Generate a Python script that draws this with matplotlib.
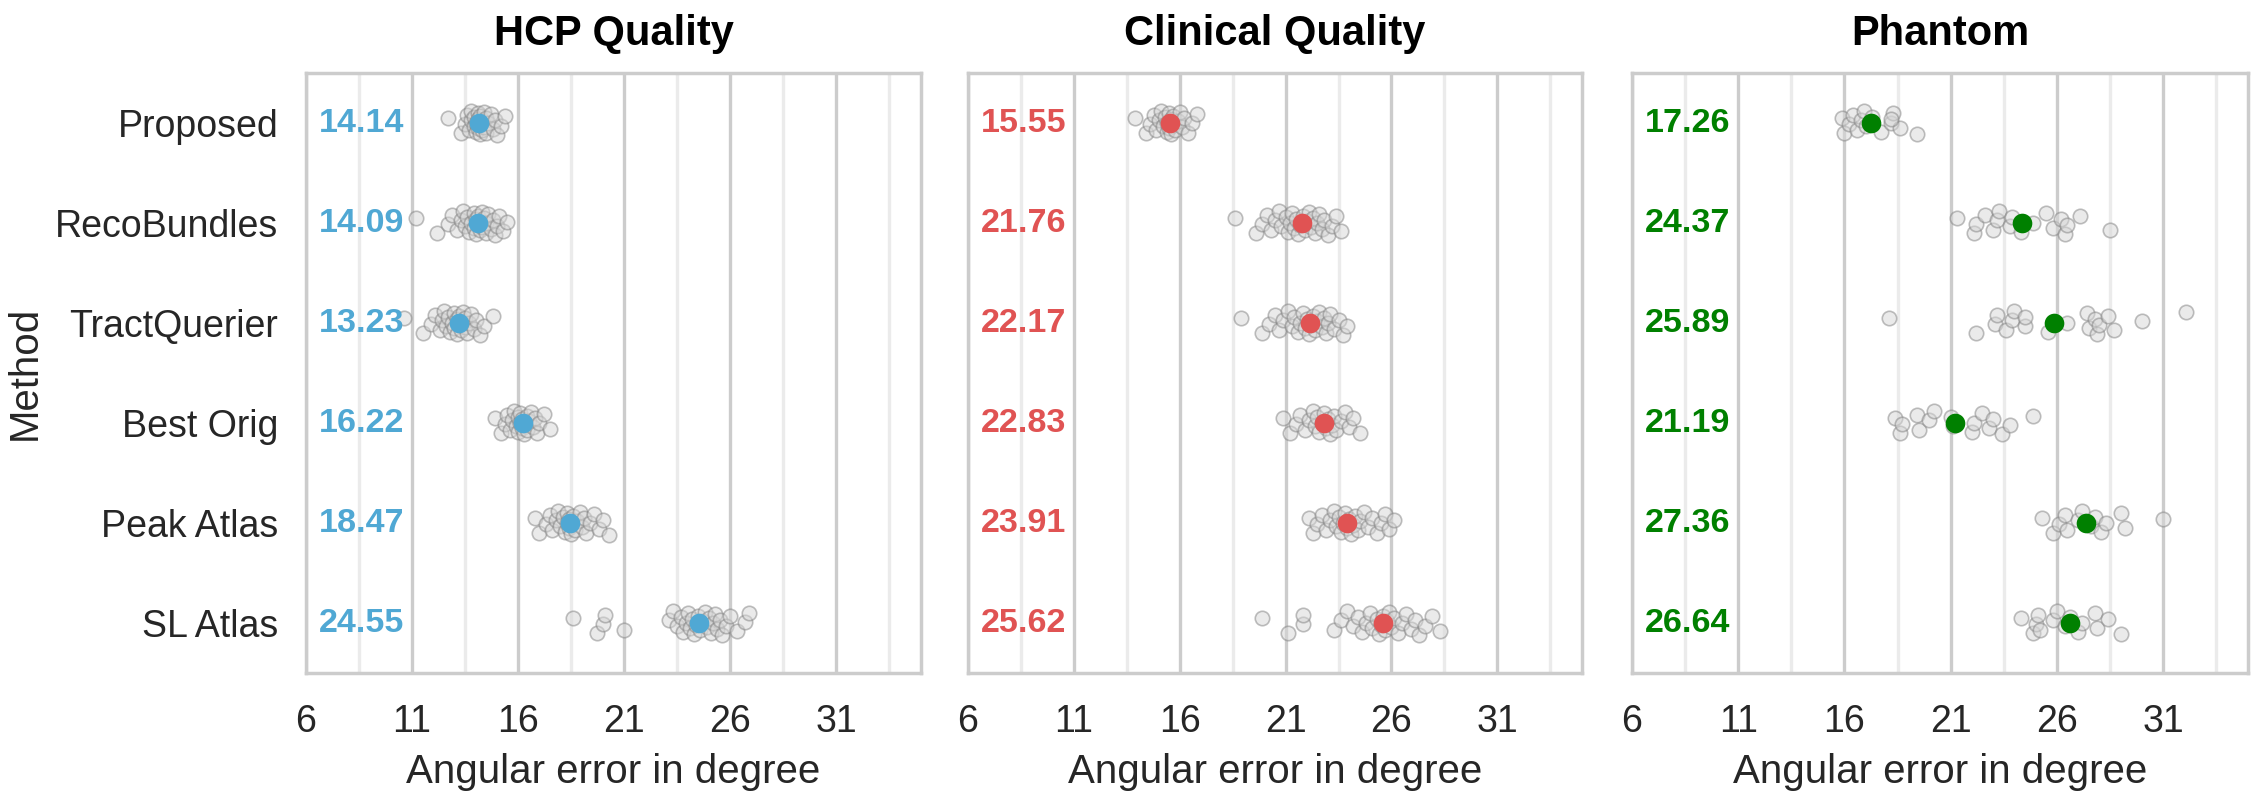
import numpy as np
import matplotlib
matplotlib.use("Agg")
import matplotlib.pyplot as plt
import seaborn as sns

sns.set_style("whitegrid")
plt.rcParams['font.family'] = ['Liberation Sans', 'DejaVu Sans']

methods = ["Proposed", "RecoBundles", "TractQuerier", "Best Orig", "Peak Atlas", "SL Atlas"]
titles = ["HCP Quality", "Clinical Quality", "Phantom"]
colors = ["#50A8D4", "#E05353", "#008000"]

# mean values printed in each panel
hcp_means = [14.14, 14.09, 13.23, 16.22, 18.47, 24.55]
clinical_means = [15.55, 21.76, 22.17, 22.83, 23.91, 25.62]
phantom_means = [17.26, 24.37, 25.89, 21.19, 27.36, 26.64]

# individual subject errors
hcp_proposed = [12.7, 13.3, 13.5, 13.6, 13.7, 13.8, 13.8, 13.9, 13.9, 14.0, 14.0, 14.1, 14.1, 14.1, 14.2,
                14.2, 14.2, 14.3, 14.3, 14.4, 14.4, 14.5, 14.5, 14.6, 14.7, 14.8, 14.9, 15.0, 15.2, 15.4]
hcp_reco = [11.2, 12.2, 12.7, 12.9, 13.1, 13.3, 13.4, 13.5, 13.6, 13.7, 13.8, 13.9, 13.9, 14.0, 14.0, 14.1,
            14.1, 14.2, 14.2, 14.3, 14.3, 14.4, 14.5, 14.5, 14.6, 14.7, 14.8, 14.9, 15.0, 15.1, 15.3, 15.5]
hcp_tq = [10.6, 11.5, 11.9, 12.1, 12.3, 12.4, 12.5, 12.6, 12.7, 12.8, 12.9, 13.0, 13.0, 13.1, 13.1, 13.2,
          13.2, 13.3, 13.3, 13.4, 13.5, 13.5, 13.6, 13.7, 13.8, 13.9, 14.0, 14.2, 14.4, 14.8]
hcp_best = [14.9, 15.2, 15.4, 15.5, 15.6, 15.7, 15.8, 15.9, 16.0, 16.0, 16.1, 16.1, 16.2, 16.2, 16.3, 16.3,
            16.4, 16.4, 16.5, 16.6, 16.7, 16.8, 16.9, 17.0, 17.2, 17.5]
hcp_peak = [16.8, 17.0, 17.3, 17.5, 17.6, 17.8, 17.9, 18.0, 18.1, 18.2, 18.3, 18.3, 18.4, 18.4, 18.5, 18.5,
            18.6, 18.7, 18.8, 18.9, 19.0, 19.1, 19.2, 19.4, 19.6, 19.8, 20.0, 20.3]
hcp_sl = [18.6, 19.7, 20.0, 20.1, 21.0, 23.1, 23.3, 23.5, 23.7, 23.8, 23.9, 24.0, 24.1, 24.2, 24.3, 24.4,
          24.5, 24.6, 24.7, 24.8, 24.9, 25.0, 25.1, 25.2, 25.3, 25.4, 25.5, 25.6, 25.8, 26.0, 26.3, 26.7, 26.9]

clin_proposed = [13.9, 14.4, 14.6, 14.8, 14.9, 15.0, 15.1, 15.2, 15.3, 15.4, 15.4, 15.5, 15.5, 15.6, 15.6,
                 15.7, 15.7, 15.8, 15.9, 16.0, 16.1, 16.2, 16.4, 16.6, 16.8]
clin_reco = [18.6, 19.6, 19.9, 20.1, 20.3, 20.5, 20.7, 20.8, 21.0, 21.1, 21.2, 21.3, 21.4, 21.5, 21.6, 21.7,
             21.8, 21.9, 22.0, 22.1, 22.2, 22.3, 22.4, 22.5, 22.6, 22.7, 22.8, 23.0, 23.2, 23.4, 23.6]
clin_tq = [18.9, 19.9, 20.2, 20.5, 20.7, 20.9, 21.1, 21.3, 21.4, 21.6, 21.7, 21.8, 21.9, 22.0, 22.1, 22.2,
           22.3, 22.4, 22.5, 22.6, 22.7, 22.8, 22.9, 23.0, 23.1, 23.3, 23.5, 23.7, 23.9]
clin_best = [20.9, 21.2, 21.5, 21.7, 21.9, 22.1, 22.3, 22.4, 22.5, 22.6, 22.7, 22.8, 22.9, 23.0, 23.1, 23.2,
             23.3, 23.4, 23.6, 23.8, 24.0, 24.2, 24.5]
clin_peak = [22.1, 22.3, 22.5, 22.7, 22.9, 23.1, 23.3, 23.4, 23.5, 23.6, 23.7, 23.8, 23.9, 24.0, 24.1, 24.2,
             24.3, 24.4, 24.5, 24.7, 24.9, 25.1, 25.3, 25.5, 25.7, 25.9, 26.1]
clin_sl = [19.9, 21.1, 21.8, 21.8, 23.3, 23.6, 23.9, 24.2, 24.4, 24.6, 24.8, 25.0, 25.1, 25.3, 25.4, 25.5,
           25.6, 25.7, 25.8, 25.9, 26.0, 26.1, 26.3, 26.5, 26.7, 26.9, 27.1, 27.3, 27.6, 27.9, 28.3]

ph_proposed = [15.9, 16.0, 16.2, 16.4, 16.6, 16.8, 16.9, 17.0, 17.3, 17.7, 18.2, 18.3, 18.6, 18.2, 19.4]
ph_reco = [21.3, 22.1, 22.2, 22.6, 23.0, 23.2, 23.3, 23.8, 23.9, 24.3, 24.9, 25.5, 25.8, 26.2, 26.4, 26.5,
           27.1, 28.5]
ph_tq = [18.1, 22.2, 23.1, 23.2, 23.6, 23.9, 24.0, 24.5, 24.5, 25.6, 26.5, 27.4, 27.5, 27.8, 27.9, 28.0,
         28.4, 28.7, 30.0, 32.1]
ph_best = [18.4, 18.6, 18.7, 19.4, 19.5, 20.0, 20.2, 21.1, 21.0, 22.0, 22.1, 22.5, 22.8, 23.0, 23.4, 23.8,
           24.9]
ph_peak = [25.3, 25.8, 26.1, 26.4, 26.5, 27.0, 27.2, 27.6, 27.8, 28.1, 28.3, 29.0, 29.2, 31.0]
ph_sl = [24.3, 24.9, 25.0, 25.1, 25.2, 25.8, 26.0, 26.4, 26.6, 27.0, 27.2, 27.8, 27.9, 28.4, 29.0]

panels = [
    ([hcp_proposed, hcp_reco, hcp_tq, hcp_best, hcp_peak, hcp_sl], hcp_means),
    ([clin_proposed, clin_reco, clin_tq, clin_best, clin_peak, clin_sl], clinical_means),
    ([ph_proposed, ph_reco, ph_tq, ph_best, ph_peak, ph_sl], phantom_means),
]

fig = plt.figure(figsize=(11.3, 3.99), dpi=200)
W, H = 2260, 798
# axes extents in pixels (left, right); top 73, bottom 673
extents = [(306, 921), (968, 1582), (1632, 2248)]

axes = []
for k, (left, right) in enumerate(extents):
    ax = fig.add_axes([left / W, 1 - 673 / H, (right - left) / W, 600 / H],
                      sharey=axes[0] if axes else None)
    axes.append(ax)
    groups, means = panels[k]
    for i, vals in enumerate(groups):
        vals = np.array(vals)
        n = len(vals)
        off = ((np.arange(n) * 0.618034 + 0.3) % 1 - 0.5) * 0.24
        ax.scatter(vals, i + off, s=27, facecolor=(0.84, 0.84, 0.84, 0.5),
                   edgecolor=(0.5, 0.5, 0.5, 0.5), linewidth=0.6, zorder=3)
        ax.scatter([means[i]], [i], s=50, color=colors[k], linewidth=0, zorder=4)
        ax.text(6.6, i, f"{means[i]:.2f}", color=colors[k], fontsize=12.3,
                fontweight="bold", ha="left", va="center", zorder=5)

    ax.set_xlim(6, 35)
    ax.set_ylim(5.5, -0.5)
    ax.set_xticks(np.arange(6, 32, 5))
    ax.set_xticks(np.arange(8.5, 35, 5), minor=True)
    ax.grid(True, axis="x", which="major", color="#cccccc", linewidth=1.2)
    ax.grid(True, axis="x", which="minor", color="#ebebeb", linewidth=1.2)
    ax.grid(False, axis="y")
    ax.tick_params(axis="x", which="both", length=0, labelsize=13.5, colors="#262626", pad=11)
    ax.tick_params(axis="y", length=0, labelsize=13.5, colors="#262626", pad=10)
    for sp in ax.spines.values():
        sp.set_color("#cccccc")
        sp.set_linewidth(1.25)
    ax.set_title(titles[k], fontsize=15, fontweight="bold", pad=10, color="black")
    ax.set_xlabel("Angular error in degree", fontsize=14.5, color="#262626", labelpad=5)
    ax.set_axisbelow(True)

axes[0].set_yticks(range(len(methods)))
axes[0].set_yticklabels(methods)
axes[0].set_ylabel("Method", fontsize=14.5, color="#262626")
for ax in axes[1:]:
    ax.tick_params(axis="y", labelleft=False)

fig.savefig("out.png", dpi=200)
